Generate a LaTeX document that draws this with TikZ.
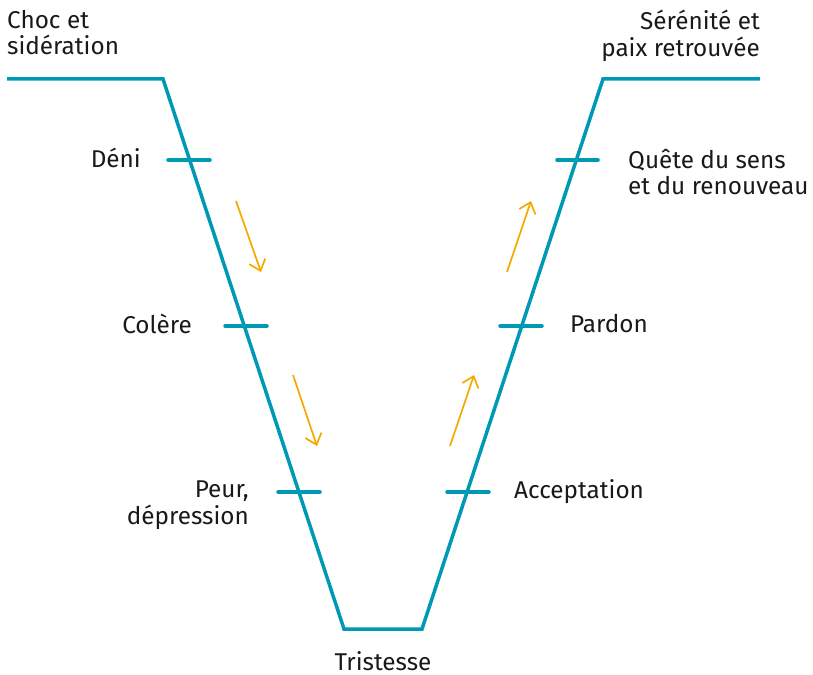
\documentclass[tikz,border=0pt]{standalone}
\usepackage{fontspec}
\setmainfont{Fira Sans}
\usetikzlibrary{arrows.meta}
\definecolor{teal}{RGB}{0,153,181}
\definecolor{orng}{RGB}{245,168,0}
\begin{document}
\begin{tikzpicture}[x=1pt,y=-1pt,
  curve/.style={draw=teal,line width=3.5pt,line join=miter},
  tick/.style={draw=teal,line width=3.5pt,line cap=round},
  flow/.style={draw=orng,line width=1.7pt,-{Straight Barb[length=10pt,width=17pt,line width=1.7pt]}},
  lbl/.style={inner sep=0pt,font=\fontsize{24.3}{26.5}\selectfont,text=black!90}]
\useasboundingbox (0,0) rectangle (813,674);
% main path
\coordinate (a) at (7,79);
\coordinate (b) at (163,79);
\coordinate (c) at (344,629);
\coordinate (d) at (422,629);
\coordinate (e) at (603,79);
\coordinate (f) at (760,79);
\draw[curve] (a) -- (b) -- (c) -- (d) -- (e) -- (f);
% ticks
\coordinate (t1a) at (168,160); \coordinate (t1b) at (210,160);
\coordinate (t2a) at (225,326); \coordinate (t2b) at (267,326);
\coordinate (t3a) at (278,492); \coordinate (t3b) at (320,492);
\coordinate (t4a) at (557,160); \coordinate (t4b) at (598,160);
\coordinate (t5a) at (500,326); \coordinate (t5b) at (542,326);
\coordinate (t6a) at (447,492); \coordinate (t6b) at (489,492);
\draw[tick] (t1a) -- (t1b);
\draw[tick] (t2a) -- (t2b);
\draw[tick] (t3a) -- (t3b);
\draw[tick] (t4a) -- (t4b);
\draw[tick] (t5a) -- (t5b);
\draw[tick] (t6a) -- (t6b);
% arrows
\coordinate (f1s) at (236,201); \coordinate (f1e) at (261,272);
\coordinate (f2s) at (293,375); \coordinate (f2e) at (317,446);
\coordinate (f3s) at (450,446); \coordinate (f3e) at (474,375);
\coordinate (f4s) at (507,272); \coordinate (f4e) at (531,201);
\draw[flow] (f1s) -- (f1e);
\draw[flow] (f2s) -- (f2e);
\draw[flow] (f3s) -- (f3e);
\draw[flow] (f4s) -- (f4e);
% labels
\node[lbl,anchor=north west,align=left] (choc) at (7,10) {Choc et\\sidération};
\node[lbl,anchor=north east,align=right] (seren) at (760,10) {Sérénité et\\paix retrouvée};
\node[lbl,anchor=base east] (deni) at (141,167) {Déni};
\node[lbl,anchor=base east] (colere) at (192,333) {Colère};
\node[lbl,anchor=north east,align=right] (peur) at (249,481) {Peur,\\dépression};
\node[lbl,anchor=north west,align=left] (quete) at (628,149) {Quête du sens\\et du renouveau};
\node[lbl,anchor=base west] (pardon) at (570,332) {Pardon};
\node[lbl,anchor=base west] (accept) at (514,498) {Acceptation};
\node[lbl,anchor=base] (trist) at (383,670) {Tristesse};
\end{tikzpicture}
\end{document}
